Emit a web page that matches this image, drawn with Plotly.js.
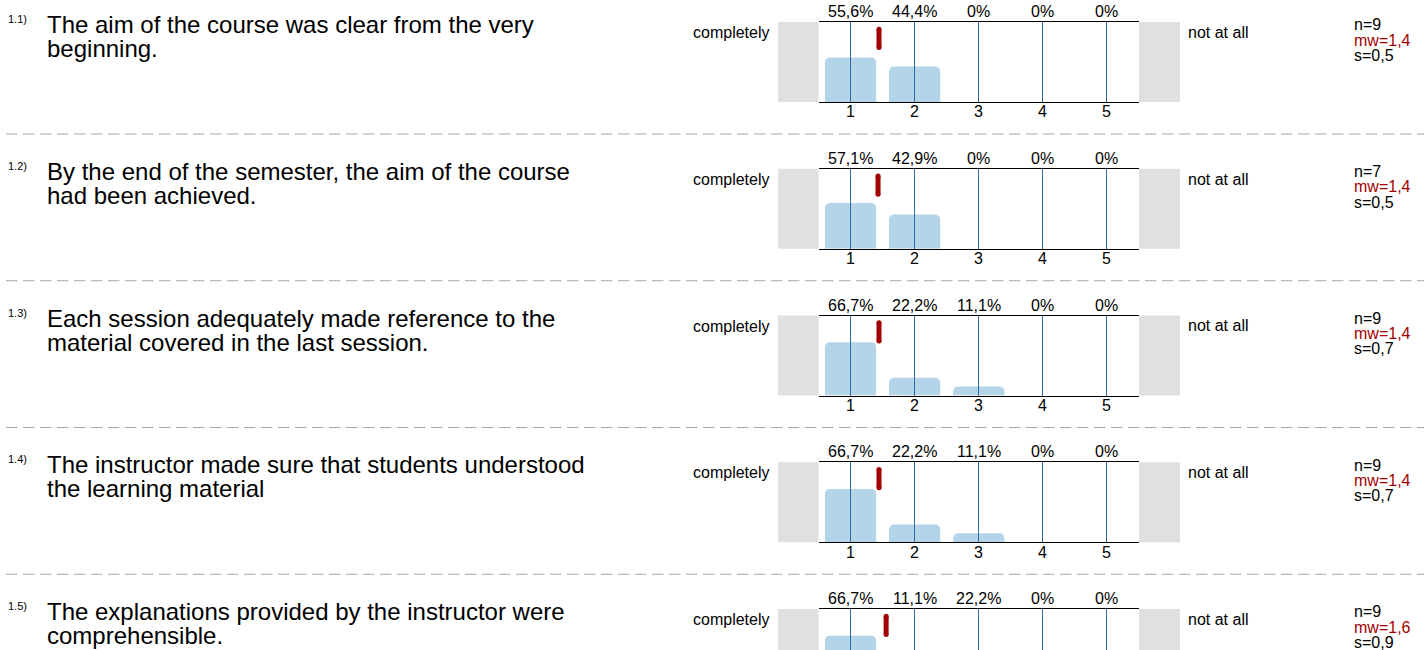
<!DOCTYPE html>
<html>
<head>
<meta charset="utf-8">
<script src="https://cdn.plot.ly/plotly-3.0.1.min.js"></script>
<style>
  html, body { margin: 0; padding: 0; background: #ffffff; }
  #chart { width: 1424px; height: 650px; }
</style>
</head>
<body>
<div id="chart"></div>
<script>
// ---------- data ----------
const scaleValues = [1, 2, 3, 4, 5];
const scaleLabels = ['1', '2', '3', '4', '5'];
const questionNumbers = ['1.1)', '1.2)', '1.3)', '1.4)', '1.5)'];
const questionLine1 = [
  'The aim of the course was clear from the very',
  'By the end of the semester, the aim of the course',
  'Each session adequately made reference to the',
  'The instructor made sure that students understood',
  'The explanations provided by the instructor were'
];
const questionLine2 = [
  'beginning.',
  'had been achieved.',
  'material covered in the last session.',
  'the learning material',
  'comprehensible.'
];
const pct_q1 = [55.6, 44.4, 0, 0, 0];
const pct_q2 = [57.1, 42.9, 0, 0, 0];
const pct_q3 = [66.7, 22.2, 11.1, 0, 0];
const pct_q4 = [66.7, 22.2, 11.1, 0, 0];
const pct_q5 = [66.7, 11.1, 22.2, 0, 0];
const nValues = [9, 7, 9, 9, 9];
const mwValues = ['1,4', '1,4', '1,4', '1,4', '1,6'];
const sValues = ['0,5', '0,5', '0,7', '0,7', '0,9'];
const leftPole = 'completely';
const rightPole = 'not at all';

const pctRows = [pct_q1, pct_q2, pct_q3, pct_q4, pct_q5];

// ---------- styling / geometry ----------
const W = 1424, H = 650;
const FONT = 'Liberation Sans, Arial, Helvetica, sans-serif';
const BAR_COLOR = '#b4d4ea';
const GRID_BLUE = '#2f6aa3';
const MEAN_RED = '#a30000';
const BOX_GRAY = '#e0e0e0';
const ROW_STEP = 146.75;
const PLOT_TOP0 = 22;
const PLOT_H = 80;
const PLOT_LEFT = 818.5, PLOT_RIGHT = 1139;
const PX_PER_PCT = PLOT_H / 100;

const px = v => v / W;
const py = v => 1 - v / H;

const fmtPct = v => (v === 0 ? '0%' : v.toFixed(1).replace('.', ',') + '%');

const data = [];
const layout = {
  width: W, height: H,
  margin: {l: 0, r: 0, t: 0, b: 0},
  paper_bgcolor: '#ffffff',
  plot_bgcolor: 'rgba(0,0,0,0)',
  showlegend: false,
  font: {family: FONT, color: '#000000', size: 16},
  annotations: [],
  shapes: []
};

pctRows.forEach((pcts, r) => {
  const o = r * ROW_STEP;
  const idx = r === 0 ? '' : String(r + 1);
  const xa = 'x' + idx, ya = 'y' + idx;
  const top = PLOT_TOP0 + o;
  const bottom = Math.min(top + PLOT_H, H);
  const visH = bottom - top;
  const yMin = 100 - visH / PX_PER_PCT;

  layout['xaxis' + idx] = {
    anchor: ya,
    domain: [px(PLOT_LEFT), px(PLOT_RIGHT)],
    range: [0.5, 5.5],
    tickvals: scaleValues,
    ticks: 'inside',
    ticklen: visH,
    tickwidth: 1,
    tickcolor: GRID_BLUE,
    showgrid: false,
    zeroline: false,
    showline: true,
    linecolor: '#000000',
    linewidth: 1,
    mirror: true,
    layer: 'above traces',
    showticklabels: false,
    fixedrange: true
  };
  layout['yaxis' + idx] = {
    anchor: xa,
    domain: [py(bottom), py(top)],
    range: [yMin, 100],
    visible: false,
    fixedrange: true
  };

  data.push({
    type: 'bar',
    x: scaleValues,
    y: pcts,
    xaxis: xa, yaxis: ya,
    width: 0.8,
    marker: {color: BAR_COLOR, cornerradius: 5, line: {width: 0}},
    hoverinfo: 'skip'
  });

  const total = pcts.reduce((a, b) => a + b, 0);
  const mean = pcts.reduce((a, p, i) => a + p * scaleValues[i], 0) / total;
  data.push({
    type: 'scatter',
    mode: 'lines+markers',
    x: [mean, mean],
    y: [100 - 7.2 / PX_PER_PCT, 100 - 25.5 / PX_PER_PCT],
    xaxis: xa, yaxis: ya,
    line: {color: MEAN_RED, width: 5},
    marker: {color: MEAN_RED, size: 5, line: {width: 0}},
    cliponaxis: false,
    hoverinfo: 'skip'
  });

  // gray end boxes
  [[-40.5 / 320.5, 0], [1, 1 + 41 / 320.5]].forEach(([a, b]) => {
    layout.shapes.push({
      type: 'rect', layer: 'below',
      xref: xa + ' domain', yref: ya + ' domain',
      x0: a, x1: b, y0: 0, y1: 1,
      fillcolor: BOX_GRAY, line: {width: 0}
    });
  });

  // percentages above, scale labels below
  pcts.forEach((p, i) => {
    layout.annotations.push({
      xref: xa, yref: 'paper', x: scaleValues[i], y: py(11.5 + o),
      xanchor: 'center', yanchor: 'middle', showarrow: false,
      text: fmtPct(p), font: {family: FONT, size: 16, color: '#000000'}
    });
    if (top + PLOT_H <= H) {
      layout.annotations.push({
        xref: xa, yref: 'paper', x: scaleValues[i], y: py(112 + o),
        xanchor: 'center', yanchor: 'middle', showarrow: false,
        text: scaleLabels[i], font: {family: FONT, size: 16, color: '#000000'}
      });
    }
  });

  // question texts
  const ann = (x, yMid, text, size, color, xanchor) => layout.annotations.push({
    xref: 'paper', yref: 'paper', x: px(x), y: py(yMid),
    xanchor: xanchor || 'left', yanchor: 'middle', showarrow: false,
    text: text, font: {family: FONT, size: size, color: color || '#000000'}
  });
  ann(6, 19 + o, questionNumbers[r], 11);
  ann(45, 24.7 + o, questionLine1[r], 24);
  ann(45, 48.6 + o, questionLine2[r], 24);
  ann(771, 32.6 + o, leftPole, 16, '#000000', 'right');
  ann(1186, 32.5 + o, rightPole, 16);
  ann(1352, 24.8 + o, 'n=' + nValues[r], 16);
  ann(1352, 40.0 + o, 'mw=' + mwValues[r], 16, MEAN_RED);
  ann(1352, 55.3 + o, 's=' + sValues[r], 16);

  // dashed separator
  if (r < pctRows.length - 1) {
    layout.shapes.push({
      type: 'line', xref: 'paper', yref: 'paper',
      x0: px(6), x1: 1, y0: py(134 + o), y1: py(134 + o),
      line: {color: '#a6a6a6', width: 1, dash: '11.5px,5.5px'}
    });
  }
});

Plotly.newPlot('chart', data, layout, {displayModeBar: false, staticPlot: true});
</script>
</body>
</html>
